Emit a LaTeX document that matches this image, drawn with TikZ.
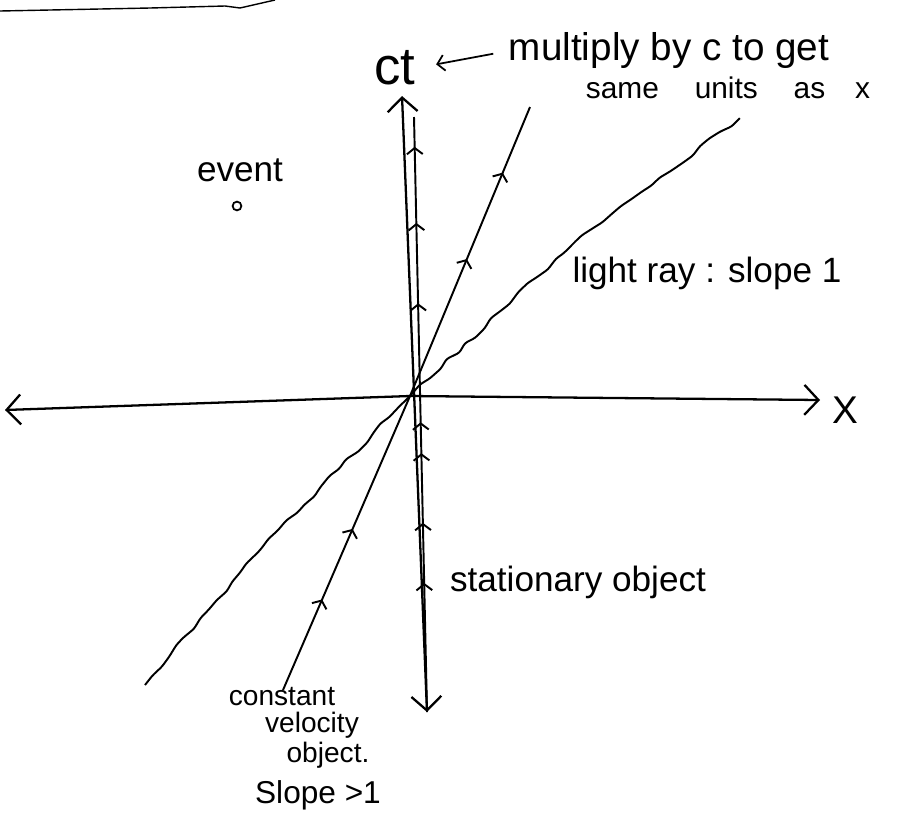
\documentclass[tikz,border=0pt]{standalone}
\usepackage{fontspec}
\setmainfont{Liberation Sans}
\usetikzlibrary{arrows.meta, decorations.markings, decorations.pathmorphing, positioning}

\begin{document}
\begin{tikzpicture}[x=0.02cm, y=-0.02cm, line width=1.1pt,
  hand/.style={font=\fontsize{#1}{#1}\selectfont, inner sep=0pt},
  axis/.style={{Straight Barb[length=8pt,width=17pt]}-{Straight Barb[length=8pt,width=17pt]}, line width=1.3pt},
  pointer/.style={-{Straight Barb[length=4pt,width=9pt]}, line width=1pt},
  flow/.style={postaction={decorate, decoration={markings, mark=at position #1 with {\arrow{Straight Barb[length=3.5pt,width=9pt]}}}}},
  wavy/.style={decorate, decoration={random steps, segment length=7pt, amplitude=1.2pt}, rounded corners=1.5pt},
]
\pgfmathsetseed{7}
\useasboundingbox (0,0) rectangle (898,812);

% edge of the page
\draw[line width=0.8pt] (0,11) -- (150,8) -- (225,6) -- (240,8) -- (275,0);

% origin and ends
\coordinate (O) at (410,396);
\coordinate (xl) at (5,410);
\coordinate (xr) at (820,400);
\coordinate (ttop) at (402,96);
\coordinate (tbot) at (427,712);
\coordinate (stop) at (414,117);
\coordinate (vtop) at (530,107);
\coordinate (vbot) at (283,690);
\coordinate (ltop) at (740,118);
\coordinate (lbot) at (145,685);

% axes
\draw[axis] (xl) -- (O) -- (xr);
\draw[axis] (tbot) -- (ttop);

% stationary object
\draw[flow=0.217, flow=0.318, flow=0.435, flow=0.487, flow=0.687, flow=0.822, flow=0.95] (tbot) -- (stop);

% constant velocity object
\draw[flow=0.308, flow=0.548] (vbot) -- (O);
\draw[flow=0.474, flow=0.773] (O) -- (vtop);

% light ray
\draw[wavy] (lbot) -- (260,550) -- (O) -- (580,237) -- (ltop);

% labels
\node[hand=30] (ct) at (395,68) {ct};
\node[hand=22] (mult) at (669,51) {multiply by c to get};
\node[hand=17] (units) at (728,88) {same\hspace{1.2em}units\hspace{1.2em}as\hspace{1em}x};
\draw[pointer, shorten <=0.3cm, shorten >=0.4cm] (mult.west) -- (ct.east);
\node[hand=22] (xlab) at (845,410) {X};

\node[hand=20] (event) at (240,170) {event};
\node[circle, draw, inner sep=0pt, minimum size=5pt, line width=1pt] (ev) at (237,206) {};

\node[hand=20] (light) at (707,273) {light ray : slope 1};
\node[hand=20] (stat) at (578,582) {stationary object};

\node[hand=16] (cv1) at (282,697) {constant};
\node[hand=16] (cv2) at (312,725) {velocity};
\node[hand=16] (cv3) at (328,755) {object.};
\node[hand=18] (slope) at (318,795) {Slope >1};

\end{tikzpicture}
\end{document}
